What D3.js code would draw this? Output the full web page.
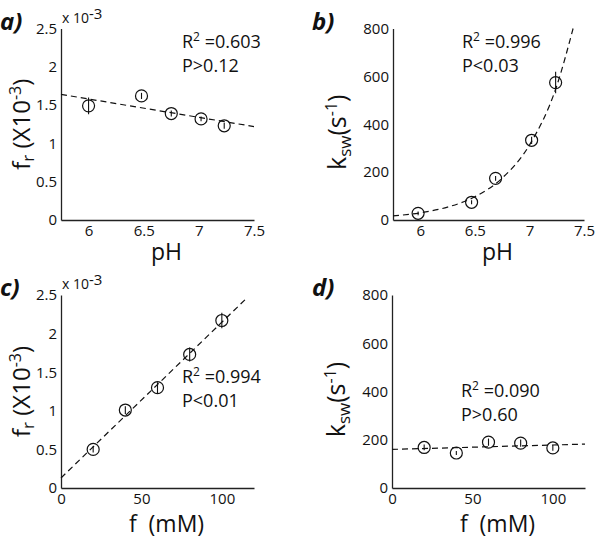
<!DOCTYPE html>
<html><head><meta charset="utf-8">
<script src="https://cdn.jsdelivr.net/npm/d3@7"></script>
<style>
body{margin:0;background:#fff;}
svg{display:block;font-family:"Open Sans",sans-serif;}
</style></head>
<body><svg id="c" width="600" height="541"></svg>
<script>
// ---- data ----
const pHa = [6.0, 6.48, 6.75, 7.02, 7.23];
const frA = [1.49, 1.62, 1.39, 1.32, 1.23];
const frAErr = [0.11, 0.04, 0.04, 0.03, 0.04];
const fitAx = [5.75, 7.5];
const fitAy = [1.64, 1.22];

const pHb = [5.98, 6.47, 6.69, 7.02, 7.24];
const kswB = [28, 74, 174, 333, 574];
const kswBErr = [8, 8, 10, 15, 45];
const fitBx = [5.75, 6.0, 6.25, 6.5, 6.75, 7.0, 7.25, 7.4];
const fitBy = [17, 30, 54, 97, 175, 313, 560, 800];

const fC = [20, 40, 60, 80, 100];
const frC = [0.50, 1.01, 1.30, 1.73, 2.17];
const frCErr = [0.04, 0.05, 0.07, 0.09, 0.10];
const fitCx = [0, 115];
const fitCy = [0.13, 2.45];

const fD = [20, 40, 60, 80, 100];
const kswD = [168, 145, 190, 186, 166];
const kswDErr = [12, 8, 15, 15, 12];
const fitDx = [0, 120];
const fitDy = [160, 182];

const pHTicks = [6, 6.5, 7, 7.5];
const fTicks = [0, 50, 100];
const frTicks = [0, 0.5, 1, 1.5, 2, 2.5];
const kswTicks = [0, 200, 400, 600, 800];

const panels = [
  {id:"a)", x0:61, x1:254, yTop:28.5, yBot:220, xd:[5.75,7.5], yd:[0,2.5], xt:pHTicks, yt:frTicks,
   xs:pHa, ys:frA, es:frAErr, fx:fitAx, fy:fitAy, curve:false, r2:"0.603", p:"P>0.12", tx:182, ty:48,
   xlab:"pH", xlabY:260, ylab:"fr"},
  {id:"b)", x0:393, x1:584, yTop:28.5, yBot:220, xd:[5.75,7.5], yd:[0,800], xt:pHTicks, yt:kswTicks,
   xs:pHb, ys:kswB, es:kswBErr, fx:fitBx, fy:fitBy, curve:true, r2:"0.996", p:"P<0.03", tx:462, ty:48,
   xlab:"pH", xlabY:260, ylab:"ksw"},
  {id:"c)", x0:61, x1:254, yTop:295, yBot:488, xd:[0,120], yd:[0,2.5], xt:fTicks, yt:frTicks,
   xs:fC, ys:frC, es:frCErr, fx:fitCx, fy:fitCy, curve:false, r2:"0.994", p:"P<0.01", tx:182, ty:383,
   xlab:"f  (mM)", xlabY:532, ylab:"fr"},
  {id:"d)", x0:392, x1:585, yTop:295, yBot:488, xd:[0,120], yd:[0,800], xt:fTicks, yt:kswTicks,
   xs:fD, ys:kswD, es:kswDErr, fx:fitDx, fy:fitDy, curve:false, r2:"0.090", p:"P>0.60", tx:461, ty:397,
   xlab:"f  (mM)", xlabY:532, ylab:"ksw"}
];

const svg = d3.select("#c");

panels.forEach(P => {
  const g = svg.append("g");
  const x = d3.scaleLinear().domain(P.xd).range([P.x0, P.x1]);
  const y = d3.scaleLinear().domain(P.yd).range([P.yBot, P.yTop]);

  const xa = g.append("g").attr("transform", `translate(0,${P.yBot})`)
    .call(d3.axisBottom(x).tickValues(P.xt).tickSize(0).tickPadding(5).tickFormat(d3.format("")));
  const ya = g.append("g").attr("transform", `translate(${P.x0},0)`)
    .call(d3.axisLeft(y).tickValues(P.yt).tickSize(0).tickPadding(4).tickFormat(d3.format("")));
  [xa, ya].forEach(a => {
    a.select(".domain").attr("stroke", "#222").attr("stroke-width", 1.3);
    a.selectAll("text").attr("font-size", 15).attr("fill", "#111").attr("font-family", "Open Sans, sans-serif");
  });

  // fit line
  const line = d3.line().x(d => x(d[0])).y(d => y(d[1]));
  if (P.curve) line.curve(d3.curveMonotoneX);
  g.append("path").datum(P.fx.map((v, i) => [v, P.fy[i]]))
    .attr("d", line).attr("fill", "none").attr("stroke", "#111")
    .attr("stroke-width", 1.2).attr("stroke-dasharray", "6,4");

  // points
  const pts = P.xs.map((v, i) => ({x: v, y: P.ys[i], e: P.es[i]}));
  g.selectAll(".eb").data(pts).join("line")
    .attr("x1", d => x(d.x)).attr("x2", d => x(d.x))
    .attr("y1", d => y(d.y - d.e)).attr("y2", d => y(d.y + d.e))
    .attr("stroke", "#111").attr("stroke-width", 1.1);
  g.selectAll(".pt").data(pts).join("circle")
    .attr("cx", d => x(d.x)).attr("cy", d => y(d.y)).attr("r", 6)
    .attr("fill", "none").attr("stroke", "#111").attr("stroke-width", 1.2);

  // stats text
  const t1 = g.append("text").attr("x", P.tx).attr("y", P.ty).attr("font-size", 18).attr("fill", "#111");
  t1.append("tspan").text("R");
  t1.append("tspan").attr("font-size", 12).attr("dy", -7).text("2");
  t1.append("tspan").attr("dy", 7).text(" =" + P.r2);
  g.append("text").attr("x", P.tx).attr("y", P.ty + 23.5).attr("font-size", 18).attr("fill", "#111").text(P.p);

  // panel label
  g.append("text").attr("x", P.x0 < 200 ? 0 : 312).attr("y", P.yTop + 1)
    .attr("font-size", 24).attr("font-weight", "bold").attr("font-style", "italic")
    .attr("fill", "#111").text(P.id);

  // x-axis label
  g.append("text").attr("x", (P.x0 + P.x1) / 2 + 9).attr("y", P.xlabY)
    .attr("text-anchor", "middle").attr("font-size", 23).attr("fill", "#111")
    .style("white-space", "pre").attr("xml:space", "preserve").text(P.xlab);

  // y-axis label
  const cy = (P.yTop + P.yBot) / 2;
  if (P.ylab === "fr") {
    const yl = g.append("text").attr("transform", `translate(${P.x0 - 31},${cy}) rotate(-90)`)
      .attr("text-anchor", "middle").attr("font-size", 24).attr("fill", "#111");
    yl.append("tspan").text("f");
    yl.append("tspan").attr("font-size", 17).attr("dy", 4).text("r");
    yl.append("tspan").attr("dy", -4).attr("xml:space", "preserve").text(" (X10");
    yl.append("tspan").attr("font-size", 16).attr("dy", -9).text("-3");
    yl.append("tspan").attr("dy", 9).text(")");
    // exponent label
    const ex = g.append("text").attr("x", P.x0 + 1).attr("y", P.yTop - 6).attr("font-size", 14).attr("fill", "#111");
    ex.append("tspan").text("x 10");
    ex.append("tspan").attr("font-size", 15).attr("dx", 0).attr("dy", -4).text("-3");
  } else {
    const yl = g.append("text").attr("transform", `translate(${P.x0 - 47},${cy + 8}) rotate(-90)`)
      .attr("text-anchor", "middle").attr("font-size", 25).attr("fill", "#111");
    yl.append("tspan").text("k");
    yl.append("tspan").attr("font-size", 17).attr("dy", 5).text("sw");
    yl.append("tspan").attr("dy", -5).text("(s");
    yl.append("tspan").attr("font-size", 16).attr("dy", -9).text("-1");
    yl.append("tspan").attr("dy", 9).text(")");
  }
});
</script></body></html>
